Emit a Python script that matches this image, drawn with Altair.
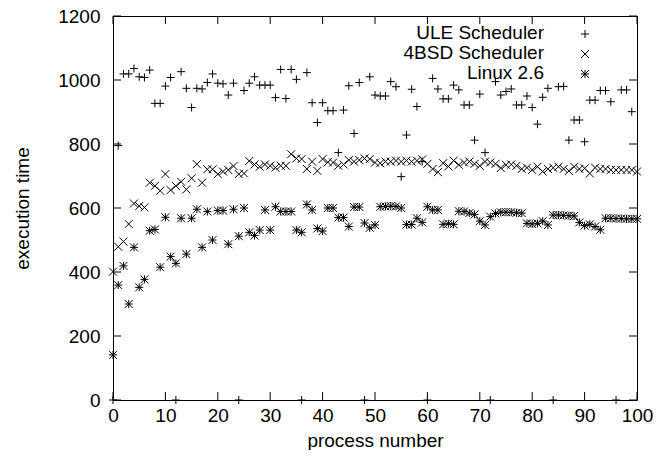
import altair as alt
import pandas as pd

series_names = ["ULE Scheduler", "4BSD Scheduler", "Linux 2.6"]

ule = [0, 795, 1019, 1019, 1036, 1010, 1008, 1031, 927, 927,
       981, 1008, 0, 1026, 974, 914, 974, 972, 992, 1019,
       990, 988, 953, 990, 0, 967, 990, 1010, 984, 984,
       984, 945, 1033, 942, 1033, 1002, 0, 1023, 929, 867,
       929, 904, 904, 773, 906, 982, 833, 992, 0, 1010,
       953, 950, 950, 995, 979, 698, 828, 971, 917, 745,
       0, 1005, 972, 941, 941, 984, 969, 922, 922, 812,
       956, 773, 0, 995, 953, 964, 972, 922, 922, 950,
       914, 862, 946, 974, 0, 979, 980, 812, 875, 875,
       807, 937, 937, 967, 967, 932, 0, 969, 969, 901]

bsd = [401, 479, 495, 550, 614, 606, 602, 679, 669, 654,
       706, 656, 669, 682, 658, 693, 737, 679, 721, 721,
       706, 714, 719, 731, 706, 708, 747, 736, 729, 736,
       732, 726, 732, 732, 768, 755, 753, 722, 745, 716,
       753, 743, 742, 732, 736, 750, 745, 750, 755, 753,
       742, 740, 745, 745, 748, 745, 748, 745, 748, 752,
       738, 722, 712, 740, 730, 748, 735, 742, 745, 738,
       732, 745, 742, 738, 725, 735, 736, 732, 722, 726,
       719, 729, 714, 722, 726, 729, 722, 716, 729, 722,
       724, 708, 726, 722, 722, 719, 719, 719, 719, 719,
       714]

linux = [141, 359, 419, 300, 477, 352, 377, 529, 533, 415,
         571, 448, 427, 568, 456, 568, 596, 477, 589, 500,
         592, 592, 487, 596, 512, 600, 524, 514, 531, 594,
         531, 604, 589, 589, 589, 531, 524, 611, 594, 536,
         528, 600, 600, 570, 570, 542, 603, 603, 553, 538,
         547, 604, 605, 606, 605, 600, 548, 548, 568, 555,
         604, 594, 594, 549, 551, 549, 590, 589, 584, 580,
         559, 547, 573, 583, 587, 587, 587, 585, 584, 552,
         550, 552, 559, 547, 578, 578, 577, 576, 575, 555,
         545, 549, 542, 532, 568, 568, 567, 567, 566, 566,
         566]

x_ticks = list(range(0, 101, 10))
y_ticks = list(range(0, 1201, 200))

rows = []
for name, vals in zip(series_names, [ule, bsd, linux]):
    for i, v in enumerate(vals):
        rows.append({"series": name, "process": i, "time": v})
df = pd.DataFrame(rows)

W, H = 524, 384
FONT = "Liberation Sans"
FS = 19
TICK = 8

shapes = {
    "ULE Scheduler": "M-1,0L1,0M0,-1L0,1",
    "4BSD Scheduler": "M-1,-1L1,1M-1,1L1,-1",
    "Linux 2.6": "M-1,0L1,0M0,-1L0,1M-1,-1L1,1M-1,1L1,-1",
}

xscale = alt.Scale(domain=[0, 100], nice=False, zero=False)
yscale = alt.Scale(domain=[0, 1200], nice=False)

xaxis = alt.Axis(values=x_ticks, ticks=False, domain=False, grid=False, format="d",
                 labelFont=FONT, labelFontSize=FS, labelColor="black",
                 labelPadding=6, labelFlush=False, labelOverlap=False,
                 title="process number", titleFont=FONT, titleFontSize=FS,
                 titleFontWeight="normal", titleColor="black",
                 titleX=W / 2, titleY=40, titleBaseline="middle", titleAlign="center")
yaxis = alt.Axis(values=y_ticks, ticks=False, domain=False, grid=False, format="d",
                 labelFont=FONT, labelFontSize=FS, labelColor="black",
                 labelPadding=13, labelFlush=False, labelOverlap=False,
                 title="execution time", titleFont=FONT, titleFontSize=FS,
                 titleFontWeight="normal", titleColor="black",
                 titleX=-91, titleY=H / 2, titleAngle=270,
                 titleBaseline="middle", titleAlign="center")

layers = []
for k, name in enumerate(series_names):
    layers.append(
        alt.Chart(df).transform_filter(alt.datum.series == name)
        .mark_point(shape=shapes[name], filled=False, stroke="black",
                    strokeWidth=1, size=64, opacity=1)
        .encode(
            x=alt.X("process:Q", scale=xscale, axis=xaxis),
            y=alt.Y("time:Q", scale=yscale, axis=yaxis),
        )
    )

xt = pd.DataFrame({"t": x_ticks})
yt = pd.DataFrame({"t": y_ticks})
rule = dict(color="black", strokeWidth=1)
layers.append(alt.Chart(xt).mark_rule(**rule).encode(
    x=alt.X("t:Q", scale=xscale, axis=xaxis), y=alt.value(H), y2=alt.value(H - TICK)))
layers.append(alt.Chart(xt).mark_rule(**rule).encode(
    x=alt.X("t:Q", scale=xscale, axis=xaxis), y=alt.value(0), y2=alt.value(TICK)))
layers.append(alt.Chart(yt).mark_rule(**rule).encode(
    y=alt.Y("t:Q", scale=yscale, axis=yaxis), x=alt.value(0), x2=alt.value(TICK)))
layers.append(alt.Chart(yt).mark_rule(**rule).encode(
    y=alt.Y("t:Q", scale=yscale, axis=yaxis), x=alt.value(W), x2=alt.value(W - TICK)))

# key (gnuplot style: text then sample)
for k, name in enumerate(series_names):
    ld = pd.DataFrame({"label": [name]})
    ypos = 17 + 20 * k
    layers.append(alt.Chart(ld).mark_text(align="right", baseline="middle", font=FONT,
                                          fontSize=FS, color="black").encode(
        x=alt.value(431), y=alt.value(ypos), text="label:N"))
    layers.append(alt.Chart(ld).mark_point(shape=shapes[name], filled=False, stroke="black",
                                           strokeWidth=1, size=64, opacity=1).encode(
        x=alt.value(472), y=alt.value(ypos + 1)))

chart = alt.layer(*layers).properties(
    width=W, height=H,
    autosize=alt.AutoSizeParams(type="none"),
    padding={"left": 105, "top": 8, "right": 25, "bottom": 50},
).configure_view(stroke="black", strokeWidth=1)

chart.save("out.html", embed_options={"renderer": "svg", "actions": False})
